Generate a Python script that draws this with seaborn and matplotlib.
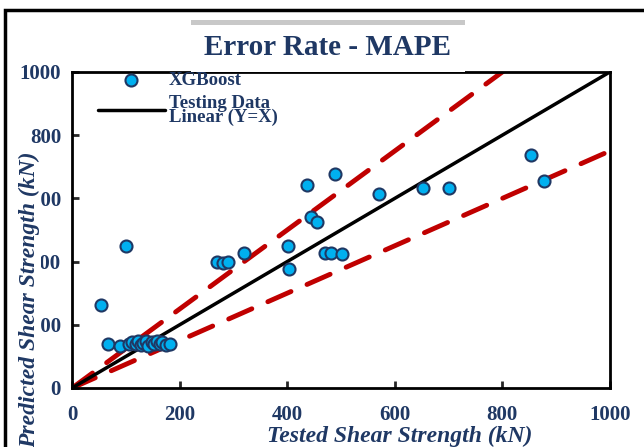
import numpy as np
import pandas as pd
import matplotlib
matplotlib.use("Agg")
import matplotlib.pyplot as plt
import seaborn as sns
from matplotlib.patches import Rectangle, FancyBboxPatch

# Tested vs predicted shear strength (kN), XGBoost testing data
tested = [54, 67, 89, 100,
          105, 112, 118, 122, 128, 132, 138, 142, 148, 152, 158, 163, 168, 175, 182,
          269, 281, 290, 320, 401, 404, 436, 445, 456, 470, 481, 501,
          489, 571, 652, 701, 853, 877]
predicted = [263, 139, 133, 449,
             140, 145, 138, 150, 135, 142, 148, 132, 145, 138, 150, 140, 147, 135, 140,
             400, 396, 400, 427, 448, 378, 641, 542, 526, 428, 428, 424,
             676, 613, 633, 633, 738, 656]

ref_x = [0, 1000]
ref_y = [0, 1000]
upper_y = [0, 1250]   # +25% bound
lower_y = [0, 750]    # -25% bound
ticks = [0, 200, 400, 600, 800, 1000]

navy = "#1F3864"
df = pd.DataFrame({"Tested": tested, "Predicted": predicted})
lines = pd.DataFrame({"x": ref_x, "y": ref_y, "up": upper_y, "lo": lower_y})

sns.set_style("ticks")
plt.rcParams["font.family"] = ["Liberation Serif", "DejaVu Serif"]

fig = plt.figure(figsize=(6.44, 4.47), dpi=100)
ax = fig.add_axes([0.112, 0.132, 0.835, 0.707])

for col in ["up", "lo"]:
    sns.lineplot(data=lines, x="x", y=col, ax=ax, color="#C00000", lw=3.5, zorder=2)
    ln = ax.lines[-1]
    ln.set_dashes([5.2, 3.6])
    ln.set_dash_capstyle("round")
sns.lineplot(data=lines, x="x", y="y", ax=ax, color="black", lw=2.5,
             label="Testing Data\nLinear (Y=X)", zorder=3)
sns.scatterplot(data=df, x="Tested", y="Predicted", ax=ax, s=75,
                color="#00B0F0", edgecolor=navy, linewidth=1.5,
                label="XGBoost", zorder=4, clip_on=False)

ax.set_xlim(0, 1000)
ax.set_ylim(0, 1000)
ax.set_xticks(ticks)
ax.set_yticks(ticks)
ax.set_xticklabels([str(t) for t in ticks], fontsize=15, fontweight="bold", color=navy)
ax.set_yticklabels([str(t) for t in ticks], fontsize=15, fontweight="bold", color=navy)
ax.tick_params(direction="in", length=5, width=2)
ax.tick_params(axis="x", pad=12)
ax.tick_params(axis="y", pad=8)
for sp in ax.spines.values():
    sp.set_visible(True)
    sp.set_linewidth(2)
    sp.set_color("black")

ax.set_xlabel("Tested Shear Strength (kN)", fontsize=17, fontweight="bold",
              fontstyle="italic", color=navy)
ax.xaxis.set_label_coords(0.61, -0.12)
# in the original the axis title sits on top of the tick labels, on a white box
ax.set_ylabel("Predicted Shear Strength (kN)", fontsize=17, fontweight="bold",
              fontstyle="italic", color=navy,
              bbox=dict(facecolor="white", edgecolor="none", pad=1))
ax.yaxis.set_label_coords(-0.06, 0.28)
ax.yaxis.label.set_zorder(5)

h, l = ax.get_legend_handles_labels()
leg = ax.legend([h[1], h[0]], [l[1], l[0]], loc="upper left", frameon=False,
                prop={"weight": "bold", "size": 13.5}, labelcolor=navy,
                handlelength=3.6, handletextpad=0.2, borderaxespad=0.1,
                labelspacing=0.3, bbox_to_anchor=(0.03, 1.03))
for t in leg.get_texts():
    t.set_linespacing(0.75)

# outer frame of the chart area
fig.patches.append(Rectangle((0.008, -0.01), 1.0, 0.988, transform=fig.transFigure,
                             fill=False, edgecolor="black", lw=2.5))
# title box with soft shadow
fig.patches.append(FancyBboxPatch((0.296, 0.845), 0.426, 0.11, transform=fig.transFigure,
                                  boxstyle="square,pad=0", facecolor="#C8C8C8",
                                  edgecolor="none"))
fig.patches.append(FancyBboxPatch((0.296, 0.838), 0.426, 0.105, transform=fig.transFigure,
                                  boxstyle="square,pad=0", facecolor="white",
                                  edgecolor="none"))
fig.text(0.508, 0.893, "Error Rate - MAPE", ha="center", va="center",
         fontsize=21, fontweight="bold", color=navy)

plt.savefig("out.png", dpi=100)
